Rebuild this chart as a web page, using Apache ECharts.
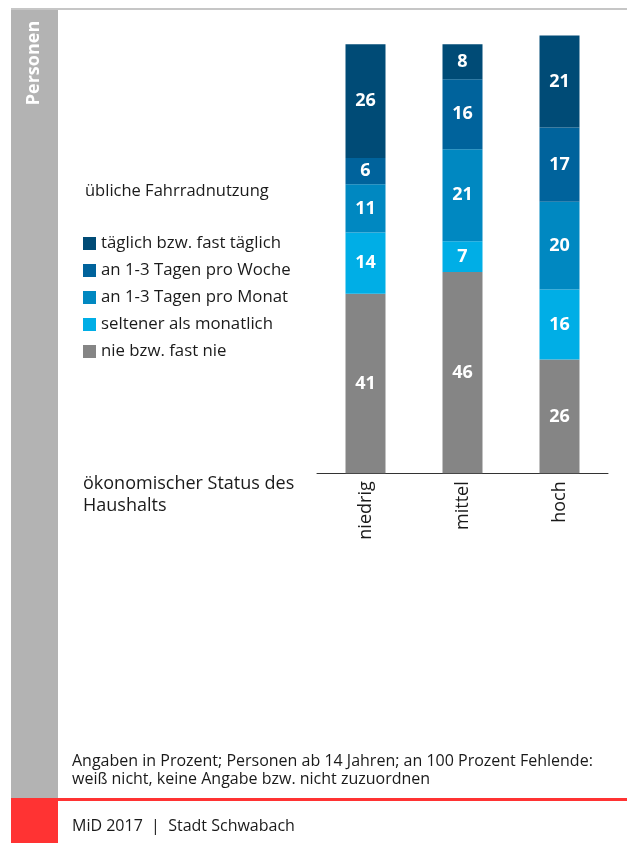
<!DOCTYPE html>
<html>
<head>
<meta charset="utf-8">
<script src="https://cdn.jsdelivr.net/npm/echarts@6/dist/echarts.min.js"></script>
<style>
  html, body { margin: 0; padding: 0; background: #fff; }
  #main { width: 627px; height: 843px; }
</style>
</head>
<body>
<div id="main"></div>
<script>
// Kategorien und Werte (Angaben in Prozent)
var categories = ['niedrig', 'mittel', 'hoch'];
var seriesNames = ['täglich bzw. fast täglich', 'an 1-3 Tagen pro Woche', 'an 1-3 Tagen pro Monat', 'seltener als monatlich', 'nie bzw. fast nie'];
var taeglich = [26, 8, 21];
var woche = [6, 16, 17];
var monat = [11, 21, 20];
var seltener = [14, 7, 16];
var nie = [41, 46, 26];
var colors = ['#004b76', '#00639c', '#0088c1', '#00aee6', '#858585'];

var FONT = '"Open Sans", sans-serif';

function barSeries(name, data, color) {
  return {
    name: name,
    type: 'bar',
    stack: 'total',
    barWidth: 40,
    data: data,
    itemStyle: { color: color },
    label: {
      show: true,
      position: 'inside',
      color: '#fff',
      fontFamily: FONT,
      fontWeight: 'bold',
      fontSize: 18
    }
  };
}

var chart = echarts.init(document.getElementById('main'));
chart.setOption({
  animation: false,
  backgroundColor: '#fff',
  grid: { left: 317, right: 19, top: 35.5, bottom: 369.7 },
  legend: {
    data: seriesNames,
    orient: 'vertical',
    left: 83,
    top: 235,
    padding: 0,
    itemWidth: 13,
    itemHeight: 13,
    itemGap: 10,
    icon: 'rect',
    selectedMode: false,
    textStyle: { fontFamily: FONT, fontSize: 16.8, color: '#1a1a1a' }
  },
  xAxis: {
    type: 'category',
    data: categories,
    axisLine: { lineStyle: { color: '#333', width: 1 } },
    axisTick: { show: false },
    axisLabel: { rotate: 90, margin: 8, fontFamily: FONT, fontSize: 18, color: '#1a1a1a' }
  },
  yAxis: {
    type: 'value',
    min: 0,
    max: 100,
    show: false
  },
  series: [
    barSeries(seriesNames[4], nie, colors[4]),
    barSeries(seriesNames[3], seltener, colors[3]),
    barSeries(seriesNames[2], monat, colors[2]),
    barSeries(seriesNames[1], woche, colors[1]),
    barSeries(seriesNames[0], taeglich, colors[0])
  ],
  graphic: [
    { type: 'rect', shape: { x: 11, y: 8, width: 616, height: 2 }, style: { fill: '#c6c6c6' } },
    { type: 'rect', shape: { x: 11, y: 10, width: 47, height: 788 }, style: { fill: '#b3b3b3' } },
    { type: 'rect', shape: { x: 11, y: 798, width: 47, height: 45 }, style: { fill: '#ff3333' } },
    { type: 'rect', shape: { x: 58, y: 798, width: 569, height: 3 }, style: { fill: '#ff3333' } },
    {
      type: 'text', x: 34, y: 63, rotation: Math.PI / 2,
      style: { text: 'Personen', fill: '#fff', font: 'bold 18px ' + FONT, textAlign: 'center', textVerticalAlign: 'middle' }
    },
    {
      type: 'text', x: 85, y: 191,
      style: { text: 'übliche Fahrradnutzung', fill: '#1a1a1a', font: '16.5px ' + FONT, textVerticalAlign: 'middle' }
    },
    {
      type: 'text', x: 83, y: 484,
      style: { text: 'ökonomischer Status des', fill: '#1a1a1a', font: '18px ' + FONT, textVerticalAlign: 'middle' }
    },
    {
      type: 'text', x: 83, y: 506,
      style: { text: 'Haushalts', fill: '#1a1a1a', font: '18px ' + FONT, textVerticalAlign: 'middle' }
    },
    {
      type: 'text', x: 72, y: 761,
      style: { text: 'Angaben in Prozent; Personen ab 14 Jahren; an 100 Prozent Fehlende:', fill: '#1a1a1a', font: '16px ' + FONT, textVerticalAlign: 'middle' }
    },
    {
      type: 'text', x: 72, y: 779,
      style: { text: 'weiß nicht, keine Angabe bzw. nicht zuzuordnen', fill: '#1a1a1a', font: '16px ' + FONT, textVerticalAlign: 'middle' }
    },
    {
      type: 'text', x: 72, y: 826,
      style: { text: 'MiD 2017  |  Stadt Schwabach', fill: '#1a1a1a', font: '16px ' + FONT, textVerticalAlign: 'middle' }
    }
  ]
});
</script>
</body>
</html>
